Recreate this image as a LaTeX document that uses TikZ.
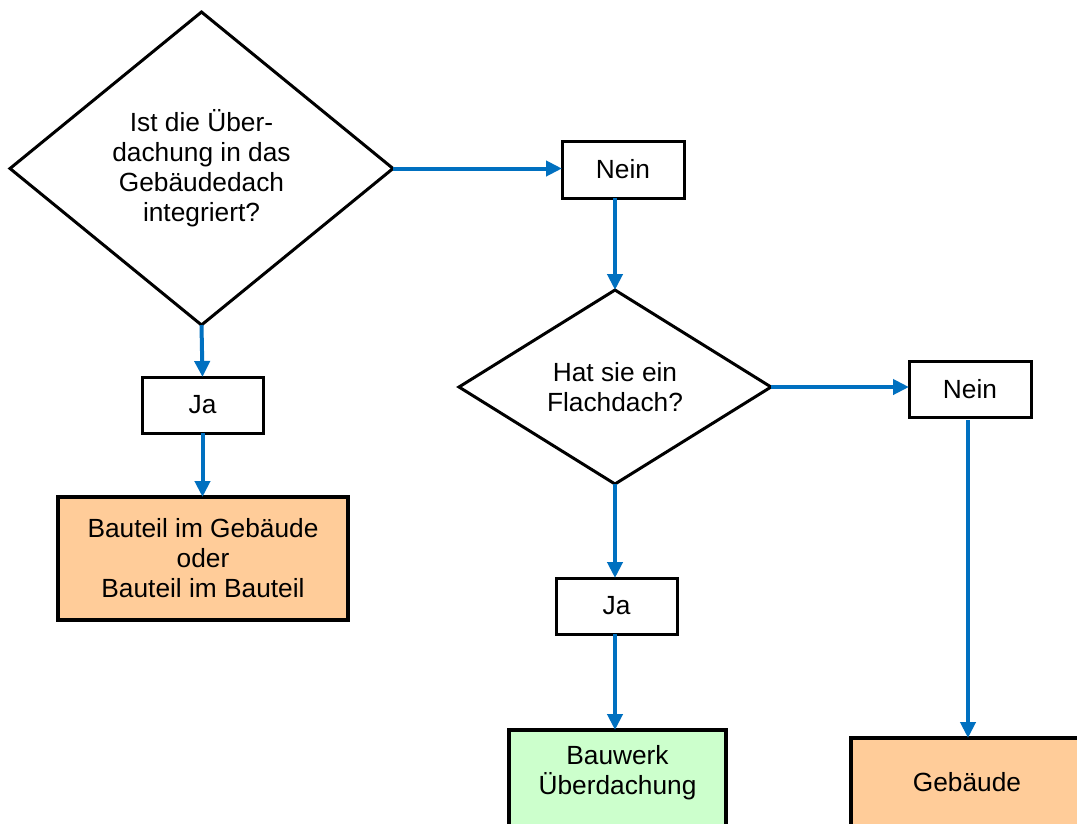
\documentclass[tikz,border=0pt]{standalone}
\usepackage{fontspec}
\setmainfont{Liberation Sans}
\usetikzlibrary{shapes.geometric,arrows.meta}
\definecolor{arrowblue}{RGB}{0,112,192}
\definecolor{peach}{RGB}{255,204,153}
\definecolor{mint}{RGB}{204,255,204}
\begin{document}
\begin{tikzpicture}[x=1pt,y=-1pt,
  every node/.style={font=\fontsize{26.3}{30}\selectfont, outer sep=0pt, inner sep=0pt},
  decision/.style={diamond, draw=black, line width=3pt, fill=white, align=center},
  answer/.style={rectangle, draw=black, line width=3pt, fill=white, minimum width=121pt, minimum height=56pt},
  result/.style={rectangle, draw=black, line width=4pt, align=center},
  flow/.style={draw=arrowblue, line width=4pt, -{Triangle[length=16pt,width=15pt]}}
]
\useasboundingbox (0,0) rectangle (1077,823);
\clip (0,0) rectangle (1077,823);
\fill[white] (0,0) rectangle (1077,823);

% decisions
\node[decision, minimum width=383pt, minimum height=313pt] (d1) at (201.5,168.5)
  {Ist die Über-\\dachung in das\\Gebäudedach\\integriert?};
\node[decision, minimum width=312pt, minimum height=194pt] (d2) at (615,387)
  {Hat sie ein\\Flachdach?};

% answers
\node[answer, minimum width=122pt, minimum height=57pt] (nein1) at (623,169.5) {Nein};
\node[answer, minimum width=122pt] (nein2) at (970,389) {Nein};
\node[answer] (ja1) at (202.5,405) {Ja};
\node[answer] (ja2) at (616.5,606) {Ja};

% results
\node[result, fill=peach, minimum width=290pt, minimum height=123pt] (bauteil) at (203,558.5)
  {Bauteil im Gebäude\\oder\\Bauteil im Bauteil};
\node[result, fill=mint, minimum width=217pt, minimum height=120pt, anchor=north] (bauwerk) at (617.5,730) {};
\node[align=center] (bauwerktxt) at (617.5,773) {Bauwerk\\Überdachung};
\node[result, fill=peach, minimum width=234pt, minimum height=110pt, anchor=north west] (geb) at (851,738) {};
\node (gebtxt) at (967,782) {Gebäude};

% connectors
\coordinate (n2out) at ([yshift=-3pt]nein2.south -| geb.north);
\draw[flow] (d1.east) -- (d1.east -| nein1.west);
\draw[flow] (nein1.south -| d2.north) -- (d2.north);
\draw[flow] (d2.east) -- (d2.east -| nein2.west);
\draw[flow] (n2out) -- (geb.north);
\draw[flow] (d1.south) -- (ja1.north);
\draw[flow] (ja1.south) -- (bauteil.north -| ja1.south);
\draw[flow] (d2.south) -- (d2.south |- ja2.north);
\draw[flow] (ja2.south -| d2.south) -- (d2.south |- bauwerk.north);
\end{tikzpicture}
\end{document}
